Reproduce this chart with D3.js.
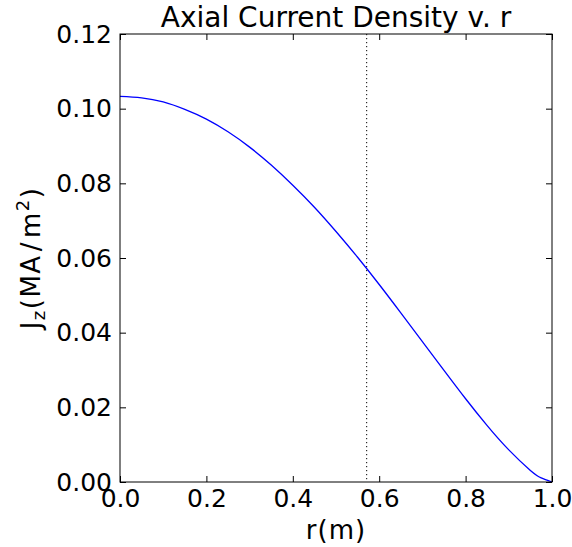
<!DOCTYPE html>
<html>
<head>
<meta charset="utf-8">
<script src="https://cdn.jsdelivr.net/npm/d3@7"></script>
<style>
  body { margin: 0; background: #fff; }
  svg text { font-family: "DejaVu Sans", sans-serif; fill: #000; }
</style>
</head>
<body>
<svg id="chart" width="572" height="547"></svg>
<script>
// values
const radius = [0, 0.05, 0.10, 0.15, 0.20, 0.25, 0.30, 0.35, 0.40, 0.45, 0.50,
  0.55, 0.60, 0.65, 0.70, 0.75, 0.80, 0.85, 0.90, 0.95, 0.975, 1.0];
const currentDensity = [0.1033, 0.1029, 0.1018, 0.0998, 0.0972, 0.0938, 0.0897, 0.0849, 0.0795, 0.0736, 0.0671,
  0.0602, 0.0529, 0.0453, 0.0376, 0.0299, 0.0223, 0.0151, 0.0086, 0.0031, 0.0011, 0];
const markerR = 0.571;
const xTicks = [0, 0.2, 0.4, 0.6, 0.8, 1.0];
const yTicks = [0, 0.02, 0.04, 0.06, 0.08, 0.10, 0.12];

let svg = d3.select("#chart"),
  margin = {top: 34, right: 20, bottom: 65, left: 120},
  width = +svg.attr("width") - margin.left - margin.right,
  height = +svg.attr("height") - margin.top - margin.bottom,
  g = svg.append("g").attr("transform", "translate(" + margin.left + "," + margin.top + ")");

let x = d3.scaleLinear().domain([0, 1]).range([0, width]);
let y = d3.scaleLinear().domain([0, 0.12]).range([height, 0]);

let data = radius.map((r, i) => ({r: r, j: currentDensity[i]}));

// dotted marker line
g.append("line")
  .attr("x1", x(markerR)).attr("x2", x(markerR))
  .attr("y1", 0).attr("y2", height)
  .attr("stroke", "#000")
  .attr("stroke-width", 1)
  .attr("stroke-dasharray", "1.2,2.8");

g.append("path")
  .datum(data)
  .attr("fill", "none")
  .attr("stroke", "#0000ff")
  .attr("stroke-width", 1.3)
  .attr("d", d3.line().x(d => x(d.r)).y(d => y(d.j)).curve(d3.curveNatural));

// ticks on all sides, pointing in
let styleAxis = function(sel) {
  sel.select(".domain").remove();
  sel.selectAll(".tick line").attr("stroke", "#000");
  sel.selectAll(".tick text").attr("font-size", 25);
};

g.append("g")
  .attr("transform", "translate(0," + height + ")")
  .call(d3.axisBottom(x).tickValues(xTicks).tickFormat(d3.format(".1f")).tickSizeInner(-6).tickPadding(7))
  .call(styleAxis);

g.append("g")
  .call(d3.axisLeft(y).tickValues(yTicks).tickFormat(d3.format(".2f")).tickSizeInner(-6).tickPadding(8))
  .call(styleAxis);

g.append("g")
  .call(d3.axisTop(x).tickValues(xTicks).tickSizeInner(-6).tickFormat(""))
  .call(styleAxis);

g.append("g")
  .attr("transform", "translate(" + width + ",0)")
  .call(d3.axisRight(y).tickValues(yTicks).tickSizeInner(-6).tickFormat(""))
  .call(styleAxis);

g.append("rect")
  .attr("width", width).attr("height", height)
  .attr("fill", "none").attr("stroke", "#000").attr("stroke-width", 1);

svg.append("text")
  .attr("x", margin.left + width / 2).attr("y", 27)
  .attr("text-anchor", "middle").attr("font-size", 28)
  .text("Axial Current Density v. r");

svg.append("text")
  .attr("x", margin.left + width / 2).attr("y", 539)
  .attr("text-anchor", "middle").attr("font-size", 26)
  .attr("letter-spacing", 1)
  .text("r(m)");

let ylab = svg.append("text")
  .attr("transform", "translate(40," + (margin.top + height / 2) + ") rotate(-90)")
  .attr("text-anchor", "middle").attr("font-size", 26)
  .attr("letter-spacing", 1.5);
ylab.append("tspan").text("J");
ylab.append("tspan").attr("font-size", 18).attr("dy", 5).text("z");
ylab.append("tspan").attr("dy", -5).text("(MA");
ylab.append("tspan").attr("dx", 3).text("/");
ylab.append("tspan").attr("dx", 3).text("m");
ylab.append("tspan").attr("font-size", 18).attr("dy", -11).text("2");
ylab.append("tspan").attr("dy", 11).text(")");
</script>
</body>
</html>
